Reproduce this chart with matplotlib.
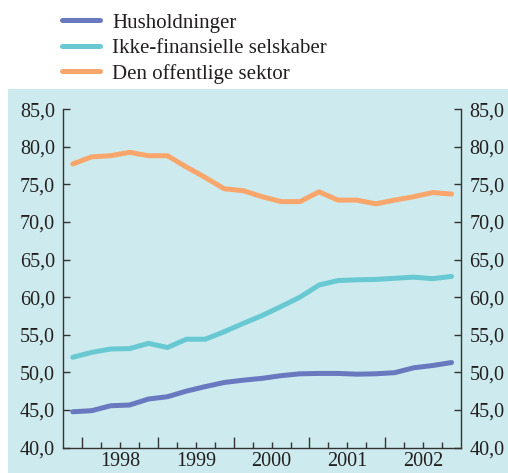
import matplotlib
matplotlib.use("Agg")
import matplotlib.pyplot as plt
from matplotlib.patches import Rectangle
from matplotlib.ticker import FixedLocator, FuncFormatter

# quarterly series, 1997Q4 - 2002Q4
husholdninger = [44.75, 44.9, 45.55, 45.65, 46.45, 46.75, 47.5, 48.1, 48.65, 48.95, 49.2,
                 49.55, 49.8, 49.85, 49.85, 49.75, 49.8, 49.95, 50.6, 50.9, 51.3]
ikke_fin = [52.0, 52.65, 53.1, 53.15, 53.85, 53.3, 54.4, 54.4, 55.4, 56.5, 57.55,
            58.75, 60.0, 61.6, 62.2, 62.3, 62.35, 62.5, 62.65, 62.45, 62.75]
offentlig = [77.7, 78.65, 78.8, 79.25, 78.8, 78.8, 77.3, 75.9, 74.4, 74.15, 73.35,
             72.7, 72.7, 74.0, 72.9, 72.9, 72.4, 72.9, 73.35, 73.9, 73.7]
years = ["1998", "1999", "2000", "2001", "2002"]
labels = ["Husholdninger", "Ikke-finansielle selskaber", "Den offentlige sektor"]
colors = ["#6979c0", "#68c9d3", "#f9a66d"]

plt.rcParams["font.family"] = ["Liberation Serif", "DejaVu Serif"]
bg = "#cdebee"
txt = "#231f20"

fig = plt.figure(figsize=(5.08, 4.73), dpi=100)
fig.patches.append(Rectangle((8 / 508, 0), 1, 1 - 89 / 473, transform=fig.transFigure,
                             facecolor=bg, edgecolor="none", zorder=-5))

ax = fig.add_axes([63.3 / 508, 1 - 447.5 / 473, (461 - 63.3) / 508, (447.5 - 109.1) / 473])
ax.set_facecolor(bg)

x = [i + 0.5 for i in range(len(offentlig))]
lines = []
for series, c in zip([husholdninger, ikke_fin, offentlig], colors):
    ln, = ax.plot(x, series, color=c, lw=3.6, solid_capstyle="round", solid_joinstyle="round")
    lines.append(ln)

ax.set_xlim(0, 21)
ax.set_ylim(40, 85)
ax.set_yticks(range(40, 86, 5))
ax.yaxis.set_major_formatter(FuncFormatter(lambda v, p: f"{v:.1f}".replace(".", ",")))

ax.xaxis.set_major_locator(FixedLocator([1, 5, 9, 13, 17]))
ax.xaxis.set_minor_locator(FixedLocator(range(1, 21)))
ax.set_xticklabels([])
for i, yr in enumerate(years):
    ax.text(3 + 4 * i, 39.35, yr, ha="center", va="top", fontsize=14.5, color=txt)

ax.tick_params(axis="x", which="major", direction="in", length=8, width=1, color="#333333")
ax.tick_params(axis="x", which="minor", direction="in", length=4, width=1, color="#333333")
ax.tick_params(axis="y", direction="in", length=5, width=1, color="#333333",
               labelsize=14.5, labelcolor=txt, pad=6,
               left=True, right=True, labelleft=True, labelright=True)
ax.spines["top"].set_visible(False)
for s in ["left", "right", "bottom"]:
    ax.spines[s].set_color("#333333")
    ax.spines[s].set_linewidth(1)

leg = fig.legend(lines, labels, loc="upper left", bbox_to_anchor=(62 / 508, 1 - 13 / 473),
                 frameon=False, fontsize=15, handlelength=1.8, handletextpad=0.6,
                 labelspacing=0.28, borderaxespad=0, borderpad=0)
for t in leg.get_texts():
    t.set_color(txt)

fig.savefig("out.png", dpi=100)
